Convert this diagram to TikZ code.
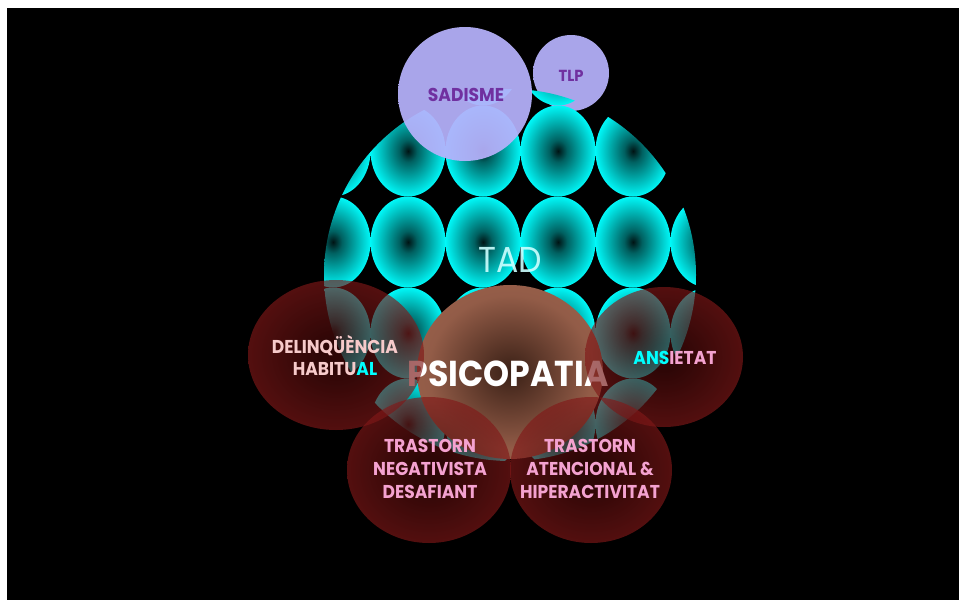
\documentclass[tikz,border=0pt]{standalone}
\usepackage{fontspec}
\setmainfont{Poppins}[FakeStretch=0.92]
\usepackage{xcolor}
\usepackage{tikz}

\definecolor{tadcyan}{HTML}{00FFFF}
\definecolor{lav}{HTML}{B6B2FC}
\definecolor{lavrim}{HTML}{A199EA}
\definecolor{purp}{HTML}{7030A0}
\definecolor{redcore}{HTML}{480A0A}
\definecolor{redrim}{HTML}{C82A2A}
\definecolor{psicore}{HTML}{3A2016}
\definecolor{psirim}{HTML}{AC6C54}
\definecolor{pinktxt}{HTML}{F4A2D0}
\definecolor{palepink}{HTML}{F6CACA}

\pgfdeclareradialshading{tile}{\pgfpoint{0bp}{0bp}}{color(0bp)=(tadcyan!8!black); color(6bp)=(tadcyan!38!black); color(26bp)=(tadcyan); color(50bp)=(tadcyan)}
\pgfdeclareradialshading{lavball}{\pgfpoint{0bp}{0bp}}{color(0bp)=(lav); color(36bp)=(lav); color(47bp)=(lavrim); color(50bp)=(lav!90!lavrim)}
\pgfdeclareradialshading{redball}{\pgfpoint{0bp}{0bp}}{color(0bp)=(redcore); color(5bp)=(redcore); color(50bp)=(redrim)}
\pgfdeclareradialshading{psiball}{\pgfpoint{0bp}{0bp}}{color(0bp)=(psicore); color(22bp)=(psirim!85!black); color(50bp)=(psirim)}

\tikzset{
  lbl/.style={font=\bfseries\fontsize{18.6}{22}\selectfont, align=center, inner sep=0},
  purpleball/.style={shading=lavball, opacity=.93},
  darkball/.style={shading=redball, opacity=.65}
}

\begin{document}
\begin{tikzpicture}[x=1pt, y=-1pt]
  \useasboundingbox (0,0) rectangle (959,600);
  \fill[white] (0,0) rectangle (959,600);
  \fill[black] (7,8) rectangle (959,600);

  \shade[purpleball] (571,73) circle (38);
  \node[lbl, purp, font=\bfseries\fontsize{16}{19}\selectfont] (tlp) at (571,76) {TLP};

  \begin{scope}
    \clip (510,275) circle (186);
    \foreach \c in {0,...,5} {
      \foreach \r in {0,...,4} {
        \shade[shading=tile] (333+75*\c,60+91*\r) ellipse (37.5 and 45.5);
      }
    }
  \end{scope}
  \node[font=\fontsize{36}{40}\selectfont, text=tadcyan!20!white, text opacity=.9, inner sep=0] (tad) at (510,260) {TAD};

  \shade[purpleball] (465,94) circle (67);
  \node[lbl, purp] (sadisme) at (466,95) {SADISME};

  \shade[shading=psiball] (510,372) ellipse (93 and 87);
  \node[lbl, white, font=\bfseries\fontsize{36}{40}\selectfont] (psicopatia) at (508,374) {PSICOPATIA};

  \shade[darkball] (336,355) ellipse (88 and 75);
  \node[lbl, palepink] (delinq) at (335,355) {DELINQÜÈNCIA\\HABITU\textcolor{tadcyan}{AL}};

  \shade[darkball] (664,357) ellipse (79 and 70);
  \node[lbl, pinktxt] (ansietat) at (675,358) {\textcolor{tadcyan}{ANS}IETAT};

  \shade[darkball] (429,470) ellipse (82 and 73);
  \node[lbl, pinktxt, font=\bfseries\fontsize{18.6}{23}\selectfont] (tnd) at (430,469) {TRASTORN\\NEGATIVISTA\\DESAFIANT};

  \shade[darkball] (591,470) ellipse (81 and 73);
  \node[lbl, pinktxt, font=\bfseries\fontsize{18.6}{23}\selectfont] (tdah) at (590,469) {TRASTORN\\ATENCIONAL \&\\HIPERACTIVITAT};
\end{tikzpicture}
\end{document}
